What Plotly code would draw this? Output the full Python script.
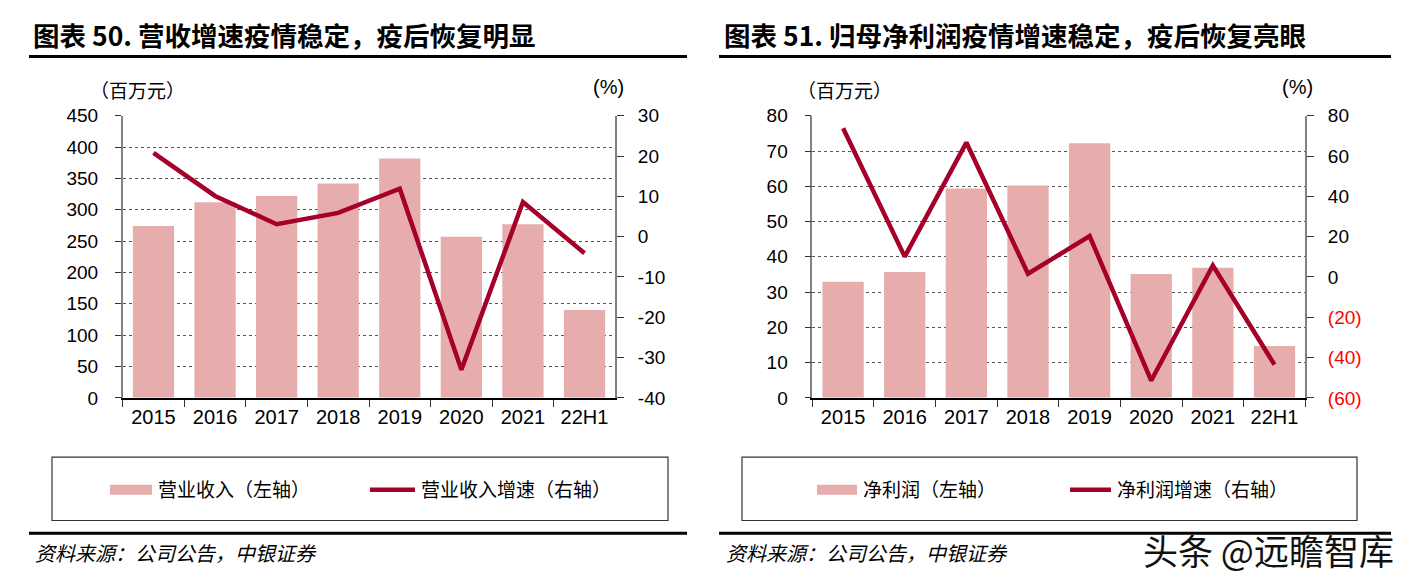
import plotly.graph_objects as go

# ---------------- data ----------------
categories = ["2015", "2016", "2017", "2018", "2019", "2020", "2021", "22H1"]
revenue = [274, 312, 322, 342, 382, 257, 277, 140]            # 百万元
revenue_growth = [20.8, 10.1, 3.1, 5.9, 11.9, -33.0, 8.6, -4.1]  # %
net_profit = [32.9, 35.7, 59.4, 60.2, 72.2, 35.1, 36.9, 14.7]   # 百万元
profit_growth = [73.8, 10.1, 66.7, 1.6, 20.3, -51.4, 5.7, -43.5]  # %

left_ticks = list(range(0, 451, 50))
left_growth_ticks = list(range(-40, 31, 10))
right_ticks = list(range(0, 81, 10))
right_growth_ticks = list(range(-60, 81, 20))

title_left = "<b>图表 50. 营收增速疫情稳定，疫后恢复明显</b>"
title_right = "<b>图表 51. 归母净利润疫情增速稳定，疫后恢复亮眼</b>"
legend_left = ["营业收入（左轴）", "营业收入增速（右轴）"]
legend_right = ["净利润（左轴）", "净利润增速（右轴）"]
source_text = "资料来源：公司公告，中银证券"
watermark = "头条 @远瞻智库"

# ---------------- styles ----------------
W, H = 1413, 586
BAR = "#E6ADAC"
LINE = "#A5002A"
GRID = "#555555"
AXG = "#808080"
NUM_FONT = "Liberation Sans, Arial, sans-serif"
CJK = "Noto Sans CJK SC, sans-serif"

# vertical placement as seen in the captured page
Y_OFF, Y_SCALE = 8.0, 570.0 / 586.0


def px(x):
    return x / W


def py(y):
    return 1 - ((y - Y_OFF) / Y_SCALE) / H


def growth_text(v, red_neg):
    if v < 0 and red_neg:
        return '<span style="color:#FF0000">(%d)</span>' % abs(v)
    return str(v)


fig = go.Figure()

# left chart
fig.add_trace(go.Bar(x=categories, y=revenue, name=legend_left[0], marker_color=BAR,
                     marker_line_width=0, xaxis="x", yaxis="y", showlegend=False))
fig.add_trace(go.Scatter(x=categories, y=revenue_growth, name=legend_left[1], mode="lines",
                         line=dict(color=LINE, width=4.5), xaxis="x", yaxis="y2", showlegend=False))
# right chart
fig.add_trace(go.Bar(x=categories, y=net_profit, name=legend_right[0], marker_color=BAR,
                     marker_line_width=0, xaxis="x3", yaxis="y3", showlegend=False))
fig.add_trace(go.Scatter(x=categories, y=profit_growth, name=legend_right[1], mode="lines",
                         line=dict(color=LINE, width=4.5), xaxis="x3", yaxis="y4", showlegend=False))

plot_top, plot_bottom = 114.7, 399.3
ydom = [py(plot_bottom), py(plot_top)]
lx = [px(122.7), px(615.3)]
rx = [px(812.3), px(1305.3)]

xcommon = dict(type="category", showline=True, linecolor="#000000", linewidth=1.5,
               ticks="outside", tickson="boundaries", ticklen=7, tickcolor="#333333",
               tickfont=dict(family=NUM_FONT, size=20, color="#000"), showgrid=False,
               zeroline=False, fixedrange=True)
yleft = dict(showgrid=True, gridcolor=GRID, griddash="dot", gridwidth=1, showline=True,
             linecolor=AXG, linewidth=1.5, ticks="outside", ticklen=6, tickcolor="#333333",
             tickfont=dict(family=NUM_FONT, size=19, color="#000"), zeroline=False,
             ticklabelstandoff=13, fixedrange=True)
yright = dict(showgrid=False, showline=True, linecolor=AXG, linewidth=1.5, ticks="outside",
              ticklen=7, tickcolor="#333333", side="right",
              tickfont=dict(family=NUM_FONT, size=19, color="#000"), zeroline=False,
              ticklabelstandoff=10, fixedrange=True)

fig.update_layout(
    width=W, height=H, margin=dict(l=0, r=0, t=0, b=0),
    paper_bgcolor="white", plot_bgcolor="white", bargap=0.33, showlegend=False,
    xaxis=dict(domain=lx, anchor="y", **xcommon),
    yaxis=dict(domain=ydom, anchor="x", range=[0, 450], tickvals=left_ticks, **yleft),
    yaxis2=dict(overlaying="y", anchor="x", range=[-40, 30], tickvals=left_growth_ticks,
                ticktext=[growth_text(v, False) for v in left_growth_ticks], **yright),
    xaxis3=dict(domain=rx, anchor="y3", **xcommon),
    yaxis3=dict(domain=ydom, anchor="x3", range=[0, 80], tickvals=right_ticks, **yleft),
    yaxis4=dict(overlaying="y3", anchor="x3", range=[-60, 80], tickvals=right_growth_ticks,
                ticktext=[growth_text(v, True) for v in right_growth_ticks], **yright),
)

shapes = []
ann = []

# titles and rules
for (x0, x1, title, tx) in [(29, 687, title_left, 31), (719, 1391, title_right, 722)]:
    shapes.append(dict(type="line", xref="paper", yref="paper", x0=px(x0), x1=px(x1),
                       y0=py(55), y1=py(55), line=dict(color="#000", width=3)))
    shapes.append(dict(type="line", xref="paper", yref="paper", x0=px(x0), x1=px(x1),
                       y0=py(536), y1=py(536), line=dict(color="#000", width=3)))
    ann.append(dict(text=title, x=px(tx), y=py(33), xref="paper", yref="paper",
                    xanchor="left", yanchor="middle", showarrow=False,
                    font=dict(family=CJK, size=26.5, color="#000")))
    ann.append(dict(text=source_text, x=px(tx + 2), y=py(555), xref="paper", yref="paper",
                    xanchor="left", yanchor="middle", showarrow=False,
                    font=dict(family=CJK, size=20, color="#000", style="italic")))

# unit labels
for x in [88, 795]:
    ann.append(dict(text="（百万元）", x=px(x), y=py(88), xref="paper", yref="paper",
                    xanchor="left", yanchor="middle", showarrow=False,
                    font=dict(family=CJK, size=19, color="#000")))
for x in [608, 1297]:
    ann.append(dict(text="(%)", x=px(x), y=py(86), xref="paper", yref="paper",
                    xanchor="center", yanchor="middle", showarrow=False,
                    font=dict(family=NUM_FONT, size=20, color="#000")))

# legend boxes
for (bx0, bx1, sw0, sw1, ln0, ln1, labels) in [
        (52, 668, 110, 152, 370, 415, legend_left),
        (742, 1357, 817, 857, 1070, 1111, legend_right)]:
    shapes.append(dict(type="rect", xref="paper", yref="paper", x0=px(bx0), x1=px(bx1),
                       y0=py(523), y1=py(459), line=dict(color="#333", width=1.2),
                       fillcolor="rgba(0,0,0,0)"))
    shapes.append(dict(type="rect", xref="paper", yref="paper", x0=px(sw0), x1=px(sw1),
                       y0=py(497), y1=py(487), line=dict(width=0), fillcolor=BAR))
    shapes.append(dict(type="line", xref="paper", yref="paper", x0=px(ln0), x1=px(ln1),
                       y0=py(492), y1=py(492), line=dict(color=LINE, width=4.5)))
    ann.append(dict(text=labels[0], x=px(sw1 + 4), y=py(491), xref="paper", yref="paper",
                    xanchor="left", yanchor="middle", showarrow=False,
                    font=dict(family=CJK, size=19, color="#000")))
    ann.append(dict(text=labels[1], x=px(ln1 + 4), y=py(491), xref="paper", yref="paper",
                    xanchor="left", yanchor="middle", showarrow=False,
                    font=dict(family=CJK, size=19, color="#000")))

# watermark
ann.append(dict(text=watermark, x=px(1396), y=py(552), xref="paper", yref="paper",
                xanchor="right", yanchor="middle", showarrow=False,
                font=dict(family=CJK, size=35, color="#111")))

fig.update_layout(shapes=shapes, annotations=ann)

fig.write_html("out.html", config={"displayModeBar": False},
               post_script="document.body.style.margin='0px';document.body.style.overflow='hidden';")
